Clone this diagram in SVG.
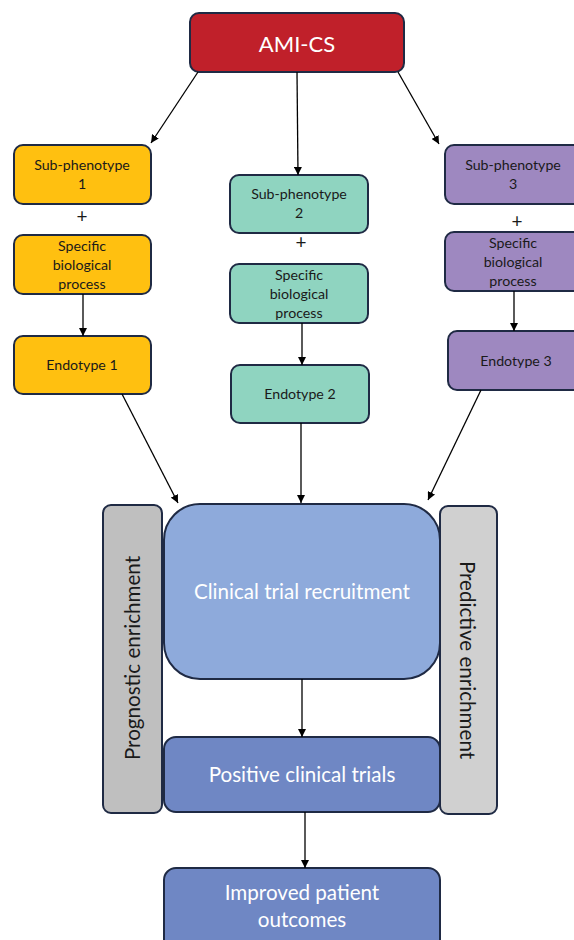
<svg xmlns="http://www.w3.org/2000/svg" width="574" height="940" viewBox="0 0 574 940">
<defs>
<marker id="ah" viewBox="0 0 10 10" refX="10" refY="5" markerWidth="8" markerHeight="8" markerUnits="userSpaceOnUse" orient="auto">
<path d="M0,0 L10,5 L0,10 z" fill="#000"/>
</marker>
<style>
.box{stroke:#1F2A44;stroke-width:2}
.y{fill:#FFC010}
.t{fill:#8FD4C0}
.p{fill:#9E88C0}
.sm{font-family:"Lato","Open Sans",sans-serif;font-size:14.2px;fill:#1a1a1a;text-anchor:middle}
.plus{font-family:"Lato","Open Sans",sans-serif;font-size:19px;fill:#1a1a1a;text-anchor:middle}
.big{font-family:"Lato","Open Sans",sans-serif;fill:#fff;text-anchor:middle;font-size:20.6px}
.side{font-family:"Lato","Open Sans",sans-serif;font-size:20.6px;fill:#1a1a1a;text-anchor:middle}
.c{stroke:#000;stroke-width:1.3;fill:none;marker-end:url(#ah)}
</style>
</defs>
<rect width="574" height="940" fill="#fff"/>

<g id="ami">
<rect class="box" x="190" y="13" width="214" height="59" rx="9" fill="#C0202A"/>
<text class="big" x="297" y="52" style="font-size:22px">AMI-CS</text>
</g>

<g id="sub1">
<rect class="box y" x="14" y="145" width="137" height="59" rx="9"/>
<text class="sm" x="82" y="170">Sub-phenotype</text>
<text class="sm" x="82" y="189">1</text>
</g>
<text class="plus" x="82" y="223">+</text>
<g id="bio1">
<rect class="box y" x="14" y="235" width="137" height="59" rx="9"/>
<text class="sm" x="82" y="251">Specific</text>
<text class="sm" x="82" y="270">biological</text>
<text class="sm" x="82" y="289">process</text>
</g>
<g id="endo1">
<rect class="box y" x="14" y="336" width="137" height="58" rx="9"/>
<text class="sm" x="82" y="370">Endotype 1</text>
</g>

<g id="sub2">
<rect class="box t" x="230" y="175" width="138" height="58" rx="9"/>
<text class="sm" x="299" y="199">Sub-phenotype</text>
<text class="sm" x="299" y="218">2</text>
</g>
<text class="plus" x="301" y="249">+</text>
<g id="bio2">
<rect class="box t" x="230" y="264" width="138" height="59" rx="9"/>
<text class="sm" x="299" y="280">Specific</text>
<text class="sm" x="299" y="299">biological</text>
<text class="sm" x="299" y="318">process</text>
</g>
<g id="endo2">
<rect class="box t" x="231" y="365" width="138" height="58" rx="9"/>
<text class="sm" x="300" y="399">Endotype 2</text>
</g>

<g id="sub3">
<rect class="box p" x="445" y="145" width="137" height="59" rx="9"/>
<text class="sm" x="513" y="170">Sub-phenotype</text>
<text class="sm" x="513" y="189">3</text>
</g>
<text class="plus" x="517" y="228">+</text>
<g id="bio3">
<rect class="box p" x="445" y="232" width="137" height="59" rx="9"/>
<text class="sm" x="513" y="248">Specific</text>
<text class="sm" x="513" y="267">biological</text>
<text class="sm" x="513" y="286">process</text>
</g>
<g id="endo3">
<rect class="box p" x="448" y="331" width="137" height="59" rx="9"/>
<text class="sm" x="516" y="366">Endotype 3</text>
</g>

<g id="prognostic">
<rect class="box" x="103" y="505" width="59" height="308" rx="8" fill="#BFBFBF"/>
<text class="side" transform="translate(140,658) rotate(-90)">Prognostic enrichment</text>
</g>
<g id="predictive">
<rect class="box" x="440" y="506" width="57" height="308" rx="8" fill="#D0D0D0"/>
<text class="side" transform="translate(460,660) rotate(90)">Predictive enrichment</text>
</g>
<g id="recruit">
<rect class="box" x="164" y="504" width="276" height="175" rx="36" fill="#8EAADB"/>
<text class="big" x="302" y="599">Clinical trial recruitment</text>
</g>
<g id="positive">
<rect class="box" x="164" y="737" width="276" height="75" rx="12" fill="#6F87C4"/>
<text class="big" x="302" y="782">Positive clinical trials</text>
</g>
<g id="improved">
<rect class="box" x="164" y="868" width="276" height="90" rx="12" fill="#6F87C4"/>
<text class="big" x="302" y="900">Improved patient</text>
<text class="big" x="302" y="927">outcomes</text>
</g>

<g id="connectors">
<line class="c" x1="198" y1="72" x2="151" y2="143"/>
<line class="c" x1="297" y1="72" x2="298" y2="175"/>
<line class="c" x1="398" y1="72" x2="439" y2="144"/>
<line class="c" x1="83" y1="294" x2="83" y2="336"/>
<line class="c" x1="302" y1="323" x2="302" y2="365"/>
<line class="c" x1="514" y1="291" x2="514" y2="331"/>
<line class="c" x1="122" y1="394" x2="178" y2="503"/>
<line class="c" x1="301" y1="423" x2="301" y2="503"/>
<line class="c" x1="481" y1="390" x2="428" y2="500"/>
<line class="c" x1="302" y1="679" x2="302" y2="737"/>
<line class="c" x1="305" y1="812" x2="305" y2="868"/>
</g>
</svg>
